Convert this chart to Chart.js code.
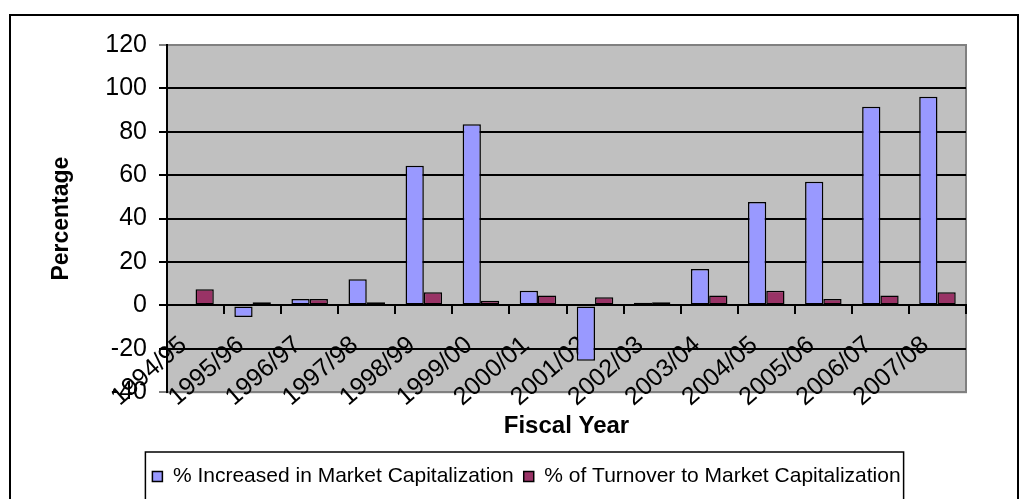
<!DOCTYPE html>
<html>
<head>
<meta charset="utf-8">
<script src="https://cdn.jsdelivr.net/npm/chart.js@4/dist/chart.umd.min.js"></script>
<style>
  body { margin: 0; background: #fff; }
  #frame { position: absolute; left: 9px; top: 14px; width: 1006px; height: 520px; border: 2px solid #000; }
  #wrap { position: absolute; left: 0; top: 0; width: 1019px; height: 499px; }
</style>
</head>
<body>
<div id="frame"></div>
<div id="wrap"><canvas id="chart"></canvas></div>
<script>
const years = ["1994/95", "1995/96", "1996/97", "1997/98", "1998/99", "1999/00", "2000/01",
    "2001/02", "2002/03", "2003/04", "2004/05", "2005/06", "2006/07", "2007/08"];
const capIncrease = [null, -5.4, 3, 12, 64.3, 83.5, 6.8, -25.5, 1.2, 16.8, 47.7, 57, 91.6, 96.2];
const turnover = [7.5, 1.4, 2.9, 1.5, 6.1, 2.1, 4.6, 3.8, 1.4, 4.6, 6.8, 2.9, 4.6, 6.1];

const font = "'Liberation Sans', Arial, sans-serif";

// grey plot background + legend frame
const decor = {
    id: "decor",
    beforeDraw(chart) {
        const { ctx, chartArea: a } = chart;
        ctx.save();
        ctx.fillStyle = "#c0c0c0";
        ctx.fillRect(a.left, a.top, a.right - a.left, a.bottom - a.top);
        ctx.strokeStyle = "#808080";
        ctx.lineWidth = 2;
        ctx.strokeRect(a.left, a.top, a.right - a.left, a.bottom - a.top);
        ctx.restore();
    },
    afterDraw(chart) {
        const lg = chart.legend;
        if (!lg || !lg.legendHitBoxes.length) return;
        const hb = lg.legendHitBoxes;
        const first = hb[0], last = hb[hb.length - 1];
        const ctx = chart.ctx;
        ctx.save();
        ctx.strokeStyle = "#000";
        ctx.lineWidth = 1.5;
        ctx.strokeRect(first.left - 7, lg.top - 4, last.left + last.width - first.left + 10, chart.height);
        ctx.restore();
    }
};

new Chart(document.getElementById("chart"), {
    type: "bar",
    data: {
        labels: years,
        datasets: [{
            label: "% Increased in Market Capitalization",
            data: capIncrease,
            backgroundColor: "#9999ff",
            borderColor: "#000",
            borderWidth: 1.5,
            borderSkipped: false
        }, {
            label: "% of Turnover to Market Capitalization",
            data: turnover,
            backgroundColor: "#993366",
            borderColor: "#000",
            borderWidth: 1.5,
            borderSkipped: false
        }]
    },
    options: {
        responsive: true,
        maintainAspectRatio: false,
        animation: false,
        datasets: { bar: { categoryPercentage: 0.64, barPercentage: 1 } },
        layout: { padding: { top: 45, left: 34, right: 0, bottom: 2 } },
        plugins: {
            tooltip: { enabled: false },
            title: {
                display: true,
                text: "Fiscal Year",
                position: "bottom",
                fullSize: false,
                weight: 500,
                color: "#000",
                font: { family: font, size: 24, weight: "bold" },
                padding: { top: 20, bottom: 15 }
            },
            legend: {
                position: "bottom",
                labels: {
                    color: "#000",
                    font: { family: font, size: 21 },
                    boxWidth: 10,
                    boxHeight: 10,
                    padding: 10
                }
            }
        },
        scales: {
            x: {
                type: "category",
                position: { y: 0 },
                grid: { offset: true, drawOnChartArea: false, color: "#000", lineWidth: 2, tickLength: 8 },
                border: { color: "#000", width: 2 },
                ticks: {
                    color: "#000",
                    font: { family: font, size: 25 },
                    minRotation: 41,
                    maxRotation: 41,
                    padding: 17,
                    labelOffset: -12,
                    autoSkip: false
                }
            },
            y: {
                min: -40,
                max: 120,
                afterFit: s => { s.width = 133; },
                ticks: { stepSize: 20, color: "#000", font: { family: font, size: 25 }, padding: 12 },
                grid: {
                    color: c => (c.tick && (c.tick.value === 120 || c.tick.value === -40)) ? "#808080" : "#000",
                    lineWidth: 2,
                    tickLength: 8
                },
                border: { color: "#000", width: 2 },
                title: {
                    display: true,
                    text: "Percentage",
                    color: "#000",
                    font: { family: font, size: 23, weight: "bold" },
                    padding: { top: 14, bottom: 0 }
                }
            },
            yRight: {
                position: "right",
                afterFit: s => { s.width = 53; },
                grid: { display: false },
                border: { display: false },
                ticks: { display: false }
            }
        }
    },
    plugins: [decor]
});
</script>
</body>
</html>
